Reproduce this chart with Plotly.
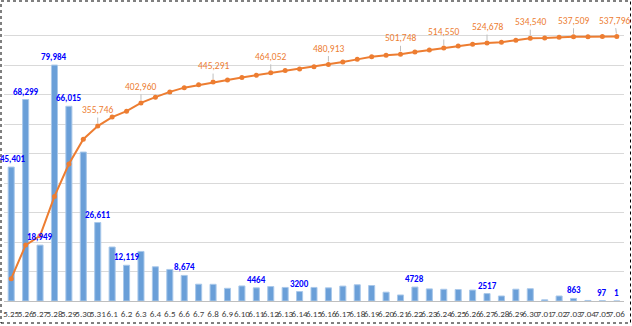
import plotly.graph_objects as go

categories = ["5.25", "5.26", "5.27", "5.28", "5.29", "5.30", "5.31",
              "6.1", "6.2", "6.3", "6.4", "6.5", "6.6", "6.7", "6.8", "6.9", "6.10",
              "6.11", "6.12", "6.13", "6.14", "6.15", "6.16", "6.17", "6.18", "6.19", "6.20",
              "6.21", "6.22", "6.23", "6.24", "6.25", "6.26", "6.27", "6.28", "6.29", "6.30",
              "7.01", "7.02", "7.03", "7.04", "7.05", "7.06"]

daily = [45401, 68299, 18949, 79984, 66015, 50487, 26611,
         18300, 12119, 16795, 11600, 10700, 8674, 5700, 5657, 4300, 5100,
         4464, 4897, 4600, 3200, 4600, 4461, 5050, 5500, 5250, 2990,
         2045, 4728, 4100, 3974, 3900, 3711, 2517, 1700, 4000, 4162,
         406, 1700, 863, 189, 97, 1]

cumulative = [45401, 113700, 132649, 212633, 278648, 329135, 355746,
              374046, 386165, 402960, 414560, 425260, 433934, 439634, 445291, 449591, 454691,
              459155, 464052, 468652, 471852, 476452, 480913, 485963, 491463, 496713, 499703,
              501748, 506476, 510576, 514550, 518450, 522161, 524678, 526378, 530378, 534540,
              534946, 536646, 537509, 537698, 537795, 537796]

daily_labels = {0: "45,401", 1: "68,299", 2: "18,949", 3: "79,984", 4: "66,015",
                6: "26,611", 8: "12,119", 12: "8,674", 17: "4464", 20: "3200",
                28: "4728", 33: "2517", 39: "863", 41: "97", 42: "1"}

cum_label_idx = [6, 9, 14, 18, 22, 27, 30, 33, 36, 39, 42]

# small pixel nudges for labels near the chart edges
daily_label_xshift = {0: 2}
cum_label_xshift = {42: -2}

FONT = "Carlito, Liberation Sans Narrow, Arial Narrow, Liberation Sans, Arial"
BLUE = "#6A9FD8"
ORANGE = "#ED7D31"

fig = go.Figure()
fig.add_trace(go.Bar(
    x=categories, y=daily, yaxis="y",
    marker=dict(color=BLUE, line=dict(color="#A9C8EA", width=1)),
    width=0.42, hoverinfo="x+y", showlegend=False,
))
fig.add_trace(go.Scatter(
    x=categories, y=cumulative, yaxis="y2", mode="lines+markers",
    line=dict(color=ORANGE, width=2),
    marker=dict(color=ORANGE, size=5),
    showlegend=False,
))

annotations = []
for i, txt in daily_labels.items():
    annotations.append(dict(
        x=i, y=daily[i], xref="x", yref="y",
        text=f"<b>{txt}</b>", showarrow=False, yanchor="bottom", yshift=1,
        xshift=daily_label_xshift.get(i, 0),
        font=dict(family=FONT, size=9, color="#0000FF"),
    ))
for i in cum_label_idx:
    annotations.append(dict(
        x=i, y=cumulative[i], xref="x", yref="y2",
        text=f"{cumulative[i]:,}", showarrow=True, arrowhead=0, arrowwidth=1,
        arrowcolor="#BFBFBF", ax=cum_label_xshift.get(i, 0), ay=-16, standoff=3,
        font=dict(family=FONT, size=9.5, color=ORANGE),
    ))

# outer dashed border, computed in paper units from the margins
W, H = 632, 326
L, R, T, B = 4, 8, 6, 25
pw, ph = W - L - R, H - T - B
def px_to_paper_x(px):
    return (px - L) / pw
def px_to_paper_y(py):
    return (H - B - py) / ph

shapes = [dict(
    type="rect", xref="paper", yref="paper",
    x0=px_to_paper_x(1), x1=px_to_paper_x(630.5),
    y0=px_to_paper_y(323), y1=px_to_paper_y(1),
    line=dict(color="#000000", width=1, dash="dot"), layer="above",
)]

fig.update_layout(
    width=W, height=H,
    margin=dict(l=L, r=R, t=T, b=B),
    paper_bgcolor="white", plot_bgcolor="white",
    bargap=0.58,
    xaxis=dict(
        type="category", tickmode="array", tickvals=categories, ticktext=categories,
        tickangle=0, tickfont=dict(family=FONT, size=9, color="#404040"),
        ticklabelstandoff=4,
        showgrid=False, showline=True, linecolor="#BFBFBF", linewidth=1,
        ticks="", range=[-0.5, len(categories) - 0.5],
    ),
    yaxis=dict(
        range=[0, 100000], dtick=10000, showgrid=True, gridcolor="#D9D9D9",
        gridwidth=1, showticklabels=False, zeroline=False, ticks="",
    ),
    yaxis2=dict(
        range=[0, 600000], dtick=60000, overlaying="y", side="right",
        showgrid=False, showticklabels=False, zeroline=False, ticks="",
    ),
    annotations=annotations,
    shapes=shapes,
)

fig.write_html("out.html")
